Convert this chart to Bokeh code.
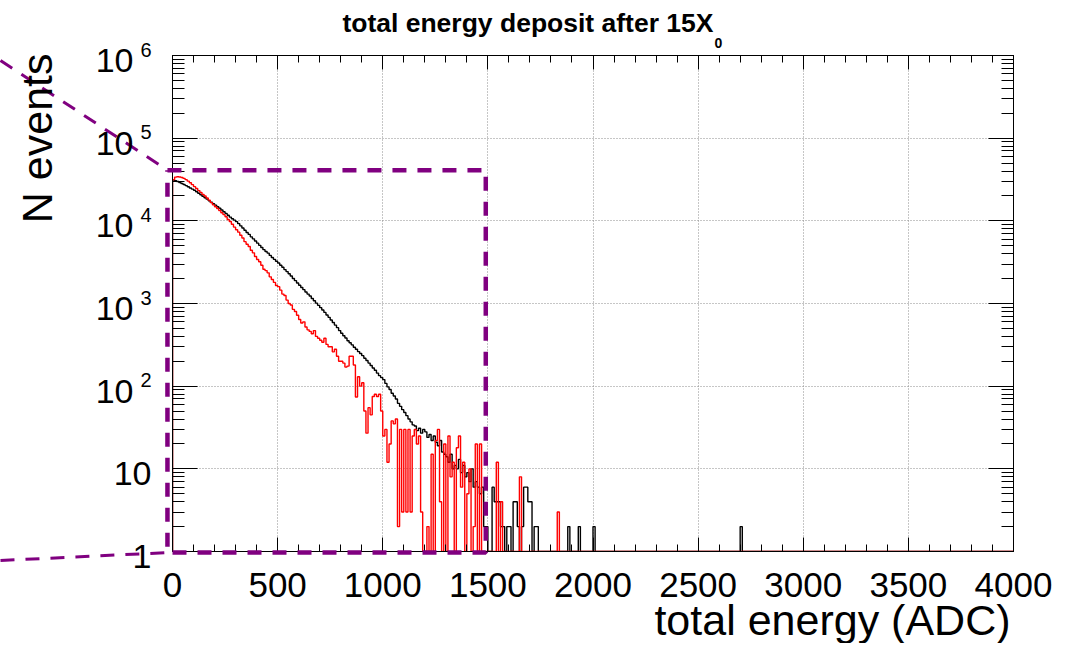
import numpy as np
from bokeh.plotting import figure
from bokeh.models import FixedTicker, LinearAxis, LogAxis, Range1d
from bokeh.core.properties import value
from bokeh.embed import file_html
from bokeh.resources import INLINE

# ---------------- data ----------------
title_main = "total energy deposit after 15X"
title_sub = "0"
x_title = "total energy (ADC)"
y_title = "N events"

bin_width = 10
x_min, x_max = 0, 4000
y_min, y_max = 1, 1e6

# black histogram, bins of 10 ADC starting at 0
black_counts = [
    31200, 30600, 29900, 29100, 28300, 27500, 26700, 25800, 25000, 24200,
    23400, 22500, 21600, 20700, 19800, 19000, 18300, 17500, 16800, 16100,
    15500, 14800, 14200, 13500, 12900, 12300, 11700, 11100, 10600, 10200,
    9770, 9250, 8700, 8200, 7700, 7240, 6850, 6400, 6050, 5700,
    5370, 5050, 4750, 4480, 4250, 4070, 3820, 3600, 3420, 3250,
    3090, 2900, 2740, 2570, 2430, 2290, 2150, 2010, 1890, 1770,
    1660, 1560, 1470, 1380, 1300, 1230, 1150, 1080, 1010, 950,
    891, 835, 780, 725, 680, 631, 590, 548, 510, 470,
    437, 408, 382, 355, 335, 316, 296, 280, 262, 248,
    234, 218, 204, 190, 178, 166, 156, 144, 134, 127,
    120, 108, 98, 91, 82, 76, 70, 62, 57, 52,
    48, 44, 40, 37, 34, 33, 29, 31, 27, 30,
    28, 24, 26, 22, 25, 21, 19, 22, 16, 15,
    14, 12, 15, 10, 11, 10, 13, 9, 11, 8,
    9, 7, 10, 6, 7, 6, 5, 6, 2, 2,
    1, 0, 6, 4, 4, 4, 2, 2, 1, 2,
    2, 0, 4, 4, 2, 1, 2, 6, 6, 4,
    4, 0, 2, 2, 0, 1, 0, 0, 0, 0,
    0, 0, 0, 0, 0, 0, 0, 0, 2, 0,
    0, 0, 0, 2, 0, 0, 0, 0, 0, 0,
    2, 0,
]
black_extra = {2700: 2}

# red histogram, bins of 10 ADC starting at 0
red_counts = [
    31500, 33800, 34200, 33900, 33500, 32600, 31500, 30200, 28900, 27400,
    25900, 24600, 23200, 22100, 20900, 20000, 18900, 17800, 16600, 15600,
    14800, 14100, 13300, 12500, 11900, 11200, 10400, 9800, 9100, 8400,
    7800, 7300, 6700, 6200, 5600, 5200, 4900, 4400, 4100, 3700,
    3400, 3200, 2900, 2600, 2500, 2350, 2100, 1950, 1800, 1650,
    1600, 1450, 1300, 1250, 1100, 1000, 960, 850, 800, 720,
    640, 580, 600, 520, 480, 460, 430, 470, 400, 380,
    360, 340, 380, 320, 300, 300, 260, 280, 230, 200,
    200, 190, 170, 175, 230, 230, 180, 74, 130, 100,
    110, 50, 27, 55, 45, 75, 80, 75, 80, 50,
    25, 30, 12, 20, 38, 35, 40, 2, 30, 3,
    30, 3, 30, 3, 25, 30, 20, 25, 3, 0,
    0, 2, 0, 15, 0, 22, 30, 4, 0, 20,
    0, 25, 8, 12, 0, 18, 25, 6, 12, 0,
    5, 10, 0, 2, 20, 0, 20, 0, 1, 0,
    0, 0, 0, 0, 12, 0, 4, 0, 0, 0,
    0, 0, 0, 0, 0, 8, 0, 0, 0, 0,
    0, 0, 0, 0, 0, 0, 0, 0, 0, 0,
    0, 0, 0, 3, 0,
]

x_ticks = [0, 500, 1000, 1500, 2000, 2500, 3000, 3500, 4000]
x_minor_ticks = list(range(0, 4001, 100))
y_ticks = [1, 10, 100, 1000, 10000, 100000, 1000000]
y_tick_base = ["1", "10", "10", "10", "10", "10", "10"]
y_tick_exp = ["", "", "2", "3", "4", "5", "6"]
y_minor_ticks = [m * 10 ** k for k in range(0, 6) for m in range(2, 10)]

# highlighted region (dashed box) and its guide lines
box_x = (-24, 1490)
box_y = (0.97, 4.1e4)

# ---------------- layout geometry (canvas pixels) ----------------
W, H = 1057, 643
FR_L, FR_T, FR_W, FR_H = 172, 55, 841, 496


def x_at(px):
    return x_min + (px - FR_L) * (x_max - x_min) / FR_W


def y_at(py):
    lo, hi = np.log10(y_min), np.log10(y_max)
    return 10 ** (hi - (py - FR_T) * (hi - lo) / FR_H)


FONT = "Liberation Sans"
PURPLE = "#800080"

p = figure(frame_width=FR_W, frame_height=FR_H,
           x_range=Range1d(x_min, x_max), y_range=Range1d(y_min, y_max),
           y_axis_type="log", output_backend="svg", toolbar_location=None,
           min_border_left=FR_L, min_border_top=FR_T,
           min_border_right=W - FR_L - FR_W,
           min_border_bottom=H - FR_T - FR_H)
p.background_fill_color = "white"
p.border_fill_color = "white"
p.outline_line_color = "black"
p.outline_line_width = 1

xt = FixedTicker(ticks=x_ticks, minor_ticks=x_minor_ticks)
yt = FixedTicker(ticks=y_ticks, minor_ticks=y_minor_ticks)

xa = p.xaxis[0]
xa.ticker = xt
xa.major_tick_in, xa.major_tick_out = 14, 0
xa.minor_tick_in, xa.minor_tick_out = 7, 0
xa.major_label_text_font = FONT
xa.major_label_text_font_size = "35px"
xa.major_label_text_color = "black"
xa.major_label_standoff = 21
xa.axis_line_color = "black"
xa.major_tick_line_color = "black"
xa.minor_tick_line_color = "black"

ya = p.yaxis[0]
ya.ticker = yt
ya.major_tick_in, ya.major_tick_out = 25, 0
ya.minor_tick_in, ya.minor_tick_out = 12, 0
ya.major_label_text_color = None
ya.axis_line_color = "black"

top_axis = LinearAxis(ticker=xt, major_tick_in=14, major_tick_out=0,
                      minor_tick_in=7, minor_tick_out=0,
                      major_label_text_color=None, axis_line_color="black")
p.add_layout(top_axis, "above")
right_axis = LogAxis(ticker=yt, major_tick_in=25, major_tick_out=0,
                     minor_tick_in=12, minor_tick_out=0,
                     major_label_text_color=None, axis_line_color="black")
p.add_layout(right_axis, "right")

for g in (p.xgrid[0], p.ygrid[0]):
    g.grid_line_color = "#8c8c8c"
    g.grid_line_dash = "1 2"
    g.grid_line_width = 1
p.xgrid[0].ticker = xt
p.ygrid[0].ticker = yt

# ---------------- histograms ----------------
n_bins = int((x_max - x_min) / bin_width)
edges = np.linspace(x_min, x_max, n_bins + 1)


def full_counts(counts, extra=None):
    arr = np.zeros(n_bins)
    arr[:len(counts)] = counts
    if extra:
        for k, v in extra.items():
            arr[int((k - x_min) / bin_width)] = v
    return arr


def step_xy(arr):
    shown = np.maximum(arr, y_min)
    xs = np.concatenate([[x_min], edges])
    ys = np.concatenate([[y_min], shown, [shown[-1]]])
    return xs, ys


bx, by = step_xy(full_counts(black_counts, black_extra))
rx, ry = step_xy(full_counts(red_counts))
p.step(bx, by, mode="after", line_color="black", line_width=1.4)
p.step(rx, ry, mode="after", line_color="#ff0000", line_width=1.4)

# ---------------- dashed highlight (drawn above the frame clip) ----------------
overlay = []
overlay.append(p.line([box_x[0], box_x[1], box_x[1], box_x[0], box_x[0]],
                      [box_y[1], box_y[1], box_y[0], box_y[0], box_y[1]],
                      line_color=PURPLE, line_width=4.5, line_dash="14 11"))
overlay.append(p.line([x_at(0), box_x[0]], [y_at(60), box_y[1]],
                      line_color=PURPLE, line_width=3, line_dash="14 11"))
overlay.append(p.line([x_at(0), box_x[0]], [y_at(560), box_y[0]],
                      line_color=PURPLE, line_width=3, line_dash="14 11"))


# ---------------- texts (text glyphs, overlay level so they are not clipped) ----
def add_text(xs, ys, texts, size, align="left", bold=False, angle=0.0):
    r = p.text(x=xs, y=ys, text=texts, text_font=value(FONT),
               text_font_size=value(size), text_align=align,
               text_baseline="alphabetic", text_color="black",
               text_font_style="bold" if bold else "normal", angle=angle)
    overlay.append(r)
    return r


# positions below are page pixels of the text anchor (renderer puts the
# glyph baseline ~0.37 em below the anchor, so anchors are lifted accordingly)
add_text([x_at(713)], [y_at(22)], [title_main], "26.5px", align="right", bold=True)
add_text([x_at(714)], [y_at(42)], [title_sub], "14px", align="left", bold=True)
add_text([x_at(1010)], [y_at(619)], [x_title], "43px", align="right")
add_text([x_at(36)], [y_at(53)], [y_title], "43px", align="right", angle=np.pi / 2)

tick_py = [FR_T + FR_H * (np.log10(y_max) - np.log10(v)) / (np.log10(y_max) - np.log10(y_min))
           for v in y_ticks]
plain = [i for i, e in enumerate(y_tick_exp) if e == ""]
power = [i for i, e in enumerate(y_tick_exp) if e != ""]
add_text([x_at(151)] * len(plain), [y_at(tick_py[i] + 5) for i in plain],
         [y_tick_base[i] for i in plain], "34px", align="right")
add_text([x_at(133)] * len(power), [y_at(tick_py[i] + 5) for i in power],
         [y_tick_base[i] for i in power], "34px", align="right")
add_text([x_at(151)] * len(power), [y_at(tick_py[i] - 6) for i in power],
         [y_tick_exp[i] for i in power], "20px", align="right")

for r in overlay:
    r.level = "overlay"

open("out.html", "w").write(file_html(p, INLINE))
